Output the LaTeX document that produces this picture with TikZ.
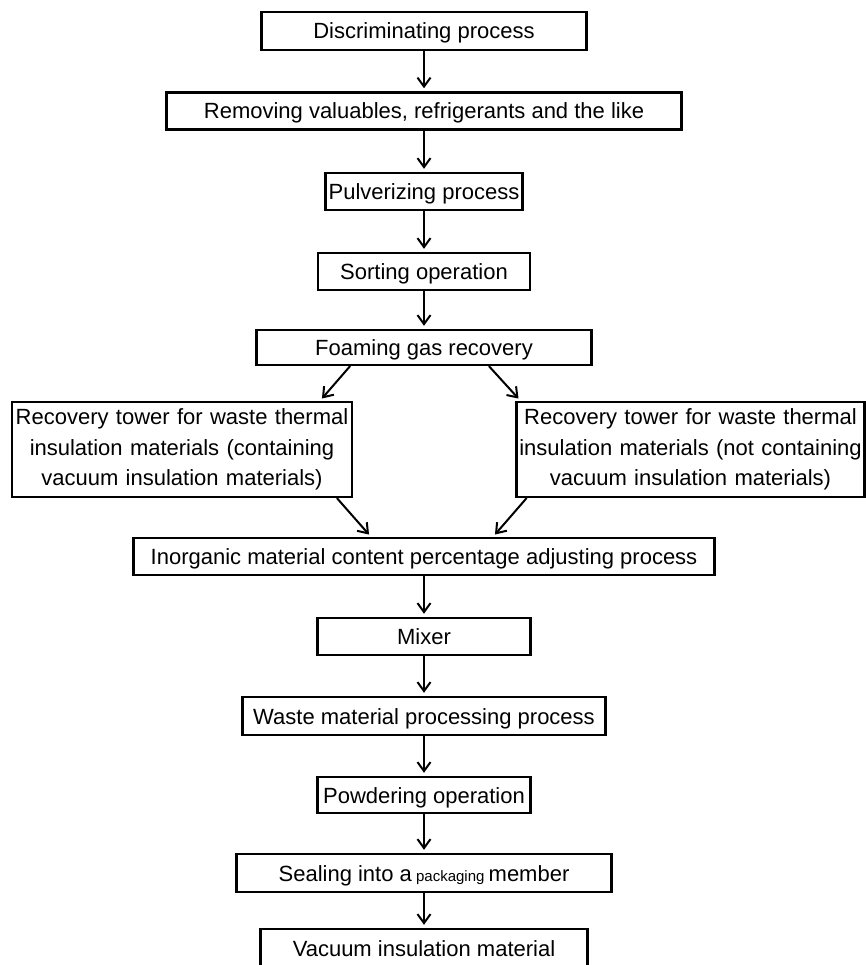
\documentclass[tikz,border=0pt]{standalone}
\usepackage{fontspec}
\setmainfont{Liberation Sans}
\usetikzlibrary{arrows.meta}

\tikzset{
  stage/.style={draw,line width=2.4pt,inner sep=0pt,align=center,minimum height=37pt},
  oneline/.style={text height=16pt,text depth=0pt},
  flow/.style={->,line width=2pt,shorten >=3pt}
}

\begin{document}
\begin{tikzpicture}[x=1pt,y=-1pt,>={Straight Barb[length=9pt,width=13pt]},font=\fontsize{22}{30.5}\selectfont,line cap=round]
\useasboundingbox (0,0) rectangle (866,965);
\clip (0,0) rectangle (866,965);
% main column
\node[stage,oneline,minimum width=325pt,minimum height=38pt] (disc) at (424,31) {Discriminating process};
\node[stage,oneline,minimum width=515pt] (remove) at (424,111) {Removing valuables, refrigerants and the like};
\node[stage,oneline,minimum width=197pt] (pulv) at (424,191.5) {Pulverizing process};
\node[stage,oneline,minimum width=212pt] (sort) at (424,271.5) {Sorting operation};
\node[stage,oneline,minimum width=335pt,minimum height=35pt] (foam) at (424,347.5) {Foaming gas recovery};
% the two recovery towers
\node[stage,minimum width=340pt,minimum height=95pt,text width=340pt] (recin) at (182,449.5) {Recovery tower for waste thermal\\insulation materials (containing\\vacuum insulation materials)};
\node[stage,minimum width=348pt,minimum height=95pt,text width=348pt] (recout) at (690.5,449.5) {Recovery tower for waste thermal\\insulation materials (not containing\\vacuum insulation materials)};
\node[stage,oneline,minimum width=581pt] (inorg) at (424,556.5) {Inorganic material content percentage adjusting process};
\node[stage,oneline,minimum width=213pt] (mixer) at (424,636.5) {Mixer};
\node[stage,oneline,minimum width=363pt,minimum height=38pt] (waste) at (424,716) {Waste material processing process};
\node[stage,oneline,minimum width=213pt,minimum height=36pt] (powder) at (424,795) {Powdering operation};
\node[stage,oneline,minimum width=375pt,minimum height=38pt] (seal) at (424,873) {Sealing into a{\fontsize{15}{15}\selectfont\ packaging\ }member};
\node[stage,oneline,minimum width=327pt,minimum height=38pt] (vacuum) at (424,948) {Vacuum insulation material};
% connectors
\draw[flow] (disc) -- (remove);
\draw[flow] (remove) -- (pulv);
\draw[flow] (pulv) -- (sort);
\draw[flow] (sort) -- (foam);
\draw[flow] ([xshift=-74pt]foam.south) -- ([xshift=138pt]recin.north);
\draw[flow] ([xshift=65pt]foam.south) -- ([xshift=-170pt]recout.north);
\draw[flow] ([xshift=155pt]recin.south) -- ([xshift=-53pt]inorg.north);
\draw[flow] ([xshift=-164pt]recout.south) -- ([xshift=69pt]inorg.north);
\draw[flow] (inorg) -- (mixer);
\draw[flow] (mixer) -- (waste);
\draw[flow] (waste) -- (powder);
\draw[flow] (powder) -- (seal);
\draw[flow] (seal) -- (vacuum);
\end{tikzpicture}
\end{document}
